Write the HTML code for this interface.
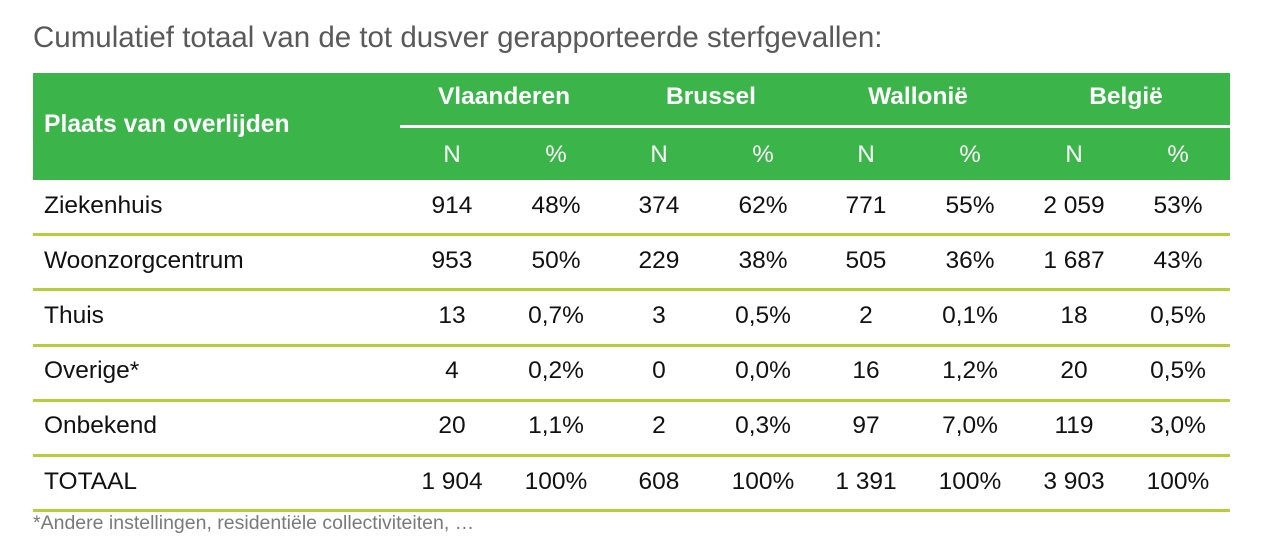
<!DOCTYPE html>
<html><head><meta charset="utf-8"><style>
body{margin:0;width:1266px;height:554px;background:#fff;position:relative;font-family:"Liberation Sans",Arial,sans-serif;overflow:hidden}
.a{position:absolute;white-space:nowrap}
.t{left:33px;top:21px;font-size:29.5px;color:#595959}
.hdr{left:33px;top:73px;width:1197px;height:107px;background:#3bb54a}
.wl{left:400px;top:125px;width:830px;height:3px;background:#fff}
.h{color:#fff;font-weight:bold;font-size:24.5px;transform:translateX(-50%)}
.n{color:#fff;font-size:24px;transform:translateX(-50%)}
.c{font-size:24.5px;color:#111;transform:translateX(-50%)}
.l{font-size:24.5px;color:#111;left:44px}
.sep{left:33px;width:1197px;height:3px;background:#b5cf3a}
.f{left:33px;top:512px;font-size:19.5px;color:#7a7a7a}
</style></head><body>
<div class="a t">Cumulatief totaal van de tot dusver gerapporteerde sterfgevallen:</div>
<div class="a hdr"></div>
<div class="a wl"></div>
<div class="a h" style="left:44px;top:111px;transform:none;font-size:24.7px">Plaats van overlijden</div>
<div class="a h" style="left:504px;top:83px">Vlaanderen</div>
<div class="a h" style="left:711px;top:83px">Brussel</div>
<div class="a h" style="left:918px;top:83px">Wallonië</div>
<div class="a h" style="left:1126px;top:83px">België</div>
<div class="a n" style="left:452px;top:141px">N</div><div class="a n" style="left:556px;top:141px">%</div>
<div class="a n" style="left:659px;top:141px">N</div><div class="a n" style="left:763px;top:141px">%</div>
<div class="a n" style="left:866px;top:141px">N</div><div class="a n" style="left:970px;top:141px">%</div>
<div class="a n" style="left:1074px;top:141px">N</div><div class="a n" style="left:1178px;top:141px">%</div>
<div id="rows"></div>
<div class="a f">*Andere instellingen, residentiële collectiviteiten, …</div>
<script>
var d=[["Ziekenhuis","914","48%","374","62%","771","55%","2 059","53%"],
["Woonzorgcentrum","953","50%","229","38%","505","36%","1 687","43%"],
["Thuis","13","0,7%","3","0,5%","2","0,1%","18","0,5%"],
["Overige*","4","0,2%","0","0,0%","16","1,2%","20","0,5%"],
["Onbekend","20","1,1%","2","0,3%","97","7,0%","119","3,0%"],
["TOTAAL","1 904","100%","608","100%","1 391","100%","3 903","100%"]];
var xs=[452,556,659,763,866,970,1074,1178],h="";
var tops=[192,247,302,357,412,468],seps=[233,288,344,399,454,509];
d.forEach(function(r,i){var y=tops[i];
h+='<div class="a l" style="top:'+y+'px">'+r[0]+'</div>';
for(var j=1;j<9;j++)h+='<div class="a c" style="left:'+xs[j-1]+'px;top:'+y+'px">'+r[j]+'</div>';
h+='<div class="a sep" style="top:'+seps[i]+'px"></div>';});
document.getElementById('rows').innerHTML=h;
</script>
</body></html>
